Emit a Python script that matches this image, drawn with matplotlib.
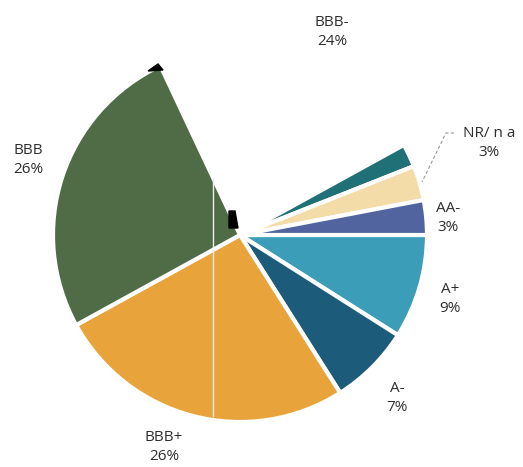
import matplotlib.pyplot as plt
from matplotlib.patches import Polygon

# ratings share, clockwise from 3 o'clock
labels = ['A+', 'A-', 'BBB+', 'BBB', 'BBB-', '', 'NR/ n a', 'AA-']
values = [9, 7, 26, 26, 24, 2, 3, 3]
shown = ['9%', '7%', '26%', '26%', '24%', '', '3%', '3%']
colors = ['#3c9db8', '#1d5b7a', '#e9a33b', '#4f6c46', '#ffffff',
          '#1f7077', '#f4dca9', '#5164a0']

fig = plt.figure(figsize=(5.23, 4.67), dpi=100)
ax = fig.add_axes([0, 0, 1, 1])

# y is inverted below, so counterclock=True runs clockwise on screen
wedges, _ = ax.pie(values, colors=colors, startangle=0, counterclock=True,
                   center=(240, 235), radius=187, frame=True,
                   wedgeprops=dict(edgecolor='white', linewidth=3))
wedges[4].set_linewidth(0)
ax.set_xlim(0, 523)
ax.set_ylim(467, 0)   # pixel-like coords, y down
ax.set_aspect('equal')
ax.axis('off')

# scan artifacts: thin light line and black notches
ax.plot([213, 213], [178, 416], color='#eeeeee', lw=1, zorder=5)
ax.add_patch(Polygon([[148, 71], [158, 64], [163, 70]], closed=True,
                     color='black', zorder=4))
ax.add_patch(Polygon([[229, 211], [235, 211], [238, 228], [229, 228]],
                     closed=True, color='black', zorder=1))

# labels
pos = {
    'A+': (450, 299),
    'A-': (397, 398),
    'BBB+': (164, 447),
    'BBB': (28, 160),
    'BBB-': (332, 32),
    'NR/ n a': (489, 143),
    'AA-': (448, 218),
}
for lab, txt in zip(labels, shown):
    if not lab:
        continue
    x, y = pos[lab]
    ax.text(x, y, lab + '\n' + txt, ha='center', va='center',
            fontsize=11, color='#2e2e2e', family='Open Sans',
            linespacing=1.45)

# leader for NR/ n a
ax.plot([454, 446, 422], [133, 133, 182], color='#999999', lw=0.8,
        ls=(0, (3, 2)))

fig.savefig('out.png', dpi=100)
